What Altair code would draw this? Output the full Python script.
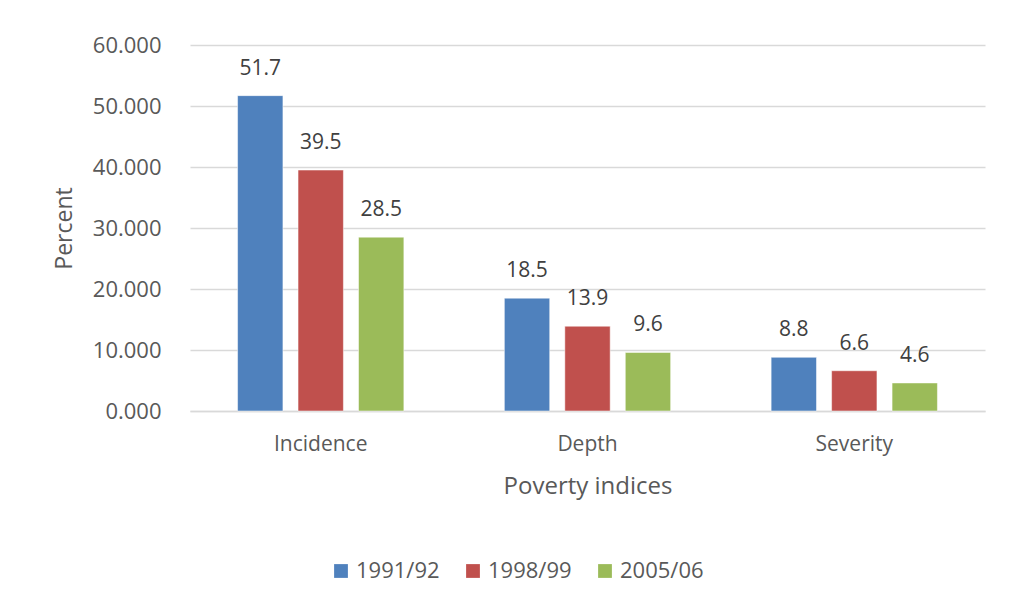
import altair as alt
import pandas as pd

categories = ["Incidence", "Depth", "Severity"]
years = ["1991/92", "1998/99", "2005/06"]
values_1991 = [51.7, 18.5, 8.8]
values_1998 = [39.5, 13.9, 6.6]
values_2005 = [28.5, 9.6, 4.6]
colors = ["#4f81bd", "#c0504d", "#9bbb59"]

rows = []
for i, c in enumerate(categories):
    for y, vals in zip(years, [values_1991, values_1998, values_2005]):
        rows.append({"index": c, "year": y, "value": vals[i]})
df = pd.DataFrame(rows)

FONT = "Open Sans"
GRAY = "#595959"

x = alt.X("index:N", sort=categories, title="Poverty indices",
          scale=alt.Scale(paddingInner=0.32, paddingOuter=0.15),
          axis=alt.Axis(labelAngle=0, labelFontSize=21, labelColor=GRAY,
                        titleFontSize=24, titleColor=GRAY, titleFontWeight="normal",
                        titlePadding=20, labelPadding=22, ticks=False,
                        domainColor="#d9d9d9", domainWidth=1.5, labelFont=FONT, titleFont=FONT))
xo = alt.XOffset("year:N", sort=years, scale=alt.Scale(paddingInner=0.25, paddingOuter=0.125))
y = alt.Y("value:Q", title="Percent",
          scale=alt.Scale(domain=[0, 60]),
          axis=alt.Axis(values=[0, 10, 20, 30, 40, 50, 60], format=".3f", labelFontSize=22,
                        labelColor=GRAY, titleFontSize=23, titleColor=GRAY,
                        titleFontWeight="normal", titlePadding=16, labelPadding=29,
                        ticks=False, domain=False, gridColor="#d9d9d9", gridWidth=1.5,
                        labelFont=FONT, titleFont=FONT))

color = alt.Color("year:N", sort=years, title=None,
                  scale=alt.Scale(domain=years, range=colors),
                  legend=alt.Legend(orient="none", legendX=140, legendY=515, direction="horizontal",
                                    symbolType="square", symbolSize=190, symbolStrokeWidth=0,
                                    labelFontSize=22, labelColor=GRAY, labelFont=FONT,
                                    columnPadding=22, labelOffset=4))

bars = alt.Chart(df).mark_bar(stroke="white", strokeWidth=0.5).encode(
    x=x, xOffset=xo, y=y, color=color)

labels = alt.Chart(df).mark_text(baseline="bottom", dy=-17, fontSize=21, color="#404040", font=FONT).encode(
    x=alt.X("index:N", sort=categories), xOffset=alt.XOffset("year:N", sort=years),
    y="value:Q", text=alt.Text("value:Q", format=".1f"))

chart = (bars + labels).properties(
    width=795, height=366,
    padding={"left": 182, "top": 37, "right": 16, "bottom": 195},
    autosize="none",
    background="white",
).configure_view(stroke=None)

chart.save("out.html", embed_options={"renderer": "svg", "actions": False})
